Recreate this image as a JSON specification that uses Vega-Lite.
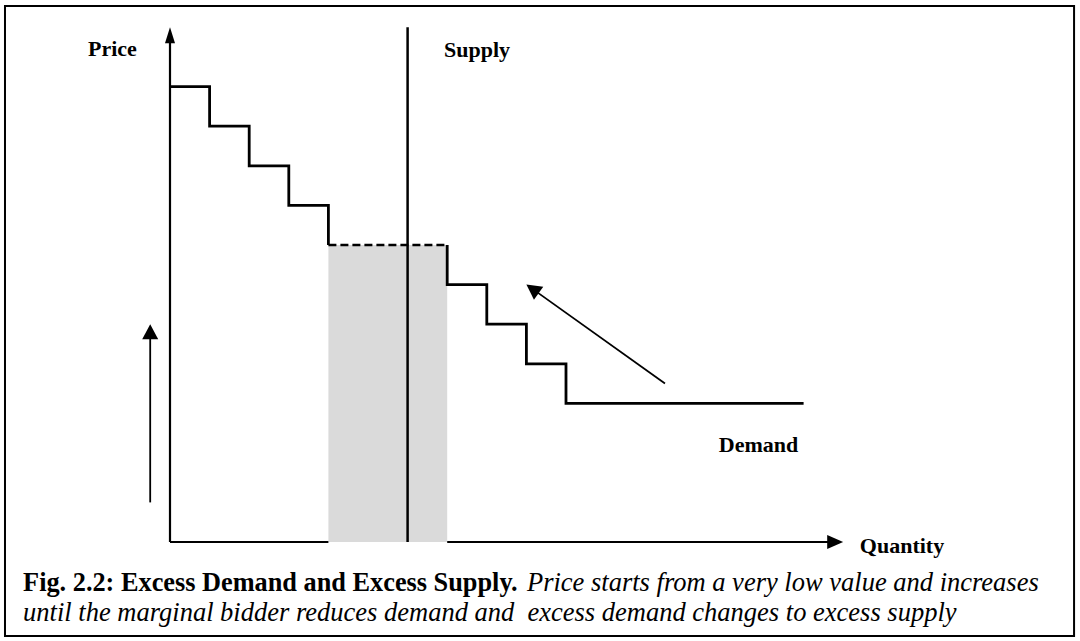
{
  "$schema": "https://vega.github.io/schema/vega-lite/v6.json",
  "width": 1080,
  "height": 641,
  "padding": 0,
  "autosize": {"type": "fit", "contains": "padding"},
  "background": "white",
  "config": {"view": {"stroke": null}},
  "datasets": {
    "frame": [{"q1": -4.167, "q2": 22.83, "p1": -2.374, "p2": 13.535}],
    "shade": [{"q1": 4, "q2": 7, "p1": 0, "p2": 7.5}],
    "axes": [
      {"q1": 0, "p1": 0, "q2": 0, "p2": 12.8},
      {"q1": 0, "p1": 0, "q2": 4, "p2": 0},
      {"q1": 7, "p1": 0, "q2": 16.8, "p2": 0}
    ],
    "supply": [{"q1": 6, "p1": 0, "q2": 6, "p2": 13}],
    "demand": [
      {"seg": "a", "i": 1, "q": 0, "p": 11.5},
      {"seg": "a", "i": 2, "q": 1, "p": 11.5},
      {"seg": "a", "i": 3, "q": 1, "p": 10.5},
      {"seg": "a", "i": 4, "q": 2, "p": 10.5},
      {"seg": "a", "i": 5, "q": 2, "p": 9.5},
      {"seg": "a", "i": 6, "q": 3, "p": 9.5},
      {"seg": "a", "i": 7, "q": 3, "p": 8.5},
      {"seg": "a", "i": 8, "q": 4, "p": 8.5},
      {"seg": "a", "i": 9, "q": 4, "p": 7.5},
      {"seg": "b", "i": 1, "q": 7, "p": 7.5},
      {"seg": "b", "i": 2, "q": 7, "p": 6.5},
      {"seg": "b", "i": 3, "q": 8, "p": 6.5},
      {"seg": "b", "i": 4, "q": 8, "p": 5.5},
      {"seg": "b", "i": 5, "q": 9, "p": 5.5},
      {"seg": "b", "i": 6, "q": 9, "p": 4.5},
      {"seg": "b", "i": 7, "q": 10, "p": 4.5},
      {"seg": "b", "i": 8, "q": 10, "p": 3.5},
      {"seg": "b", "i": 9, "q": 16, "p": 3.5}
    ],
    "dashed": [{"q1": 4, "p1": 7.5, "q2": 7, "p2": 7.5}],
    "shafts": [
      {"q1": -0.5, "p1": 1, "q2": -0.5, "p2": 5.3},
      {"q1": 12.5, "p1": 4, "q2": 9.1, "p2": 6.43}
    ],
    "headY": [{"q": 0, "p": 13}],
    "headX": [{"q": 17, "p": 0}],
    "headUp": [{"q": -0.5, "p": 5.5}],
    "headDiag": [{"q": 9, "p": 6.5}],
    "labels": [
      {"q": -2.07, "p": 12.27, "label": "Price"},
      {"q": 6.92, "p": 12.25, "label": "Supply"},
      {"q": 13.86, "p": 2.27, "label": "Demand"},
      {"q": 17.42, "p": -0.28, "label": "Quantity"}
    ],
    "capBold": [{"q": -3.71, "p": -1.237, "label": "Fig. 2.2: Excess Demand and Excess Supply."}],
    "capItalic": [
      {"q": 9.015, "p": -1.237, "label": "Price starts from a very low value and increases"},
      {"q": -3.71, "p": -1.995, "label": "until the marginal bidder reduces demand and \u00a0excess demand changes to excess supply"}
    ]
  },
  "layer": [
    {
      "data": {"name": "frame"},
      "mark": {"type": "rect", "filled": false, "stroke": "black", "strokeWidth": 2},
      "encoding": {
        "x": {"field": "q1", "type": "quantitative", "scale": {"domain": [-4.293, 22.98], "nice": false, "zero": false}, "axis": null},
        "x2": {"field": "q2"},
        "y": {"field": "p1", "type": "quantitative", "scale": {"domain": [-2.5, 13.687], "nice": false, "zero": false}, "axis": null},
        "y2": {"field": "p2"}
      }
    },
    {
      "data": {"name": "shade"},
      "mark": {"type": "rect", "fill": "#dadada", "strokeWidth": 0},
      "encoding": {
        "x": {"field": "q1", "type": "quantitative"},
        "x2": {"field": "q2"},
        "y": {"field": "p1", "type": "quantitative"},
        "y2": {"field": "p2"}
      }
    },
    {
      "data": {"name": "axes"},
      "mark": {"type": "rule", "color": "black", "strokeWidth": 2.2},
      "encoding": {
        "x": {"field": "q1", "type": "quantitative"},
        "x2": {"field": "q2"},
        "y": {"field": "p1", "type": "quantitative"},
        "y2": {"field": "p2"}
      }
    },
    {
      "data": {"name": "supply"},
      "mark": {"type": "rule", "color": "black", "strokeWidth": 2.5},
      "encoding": {
        "x": {"field": "q1", "type": "quantitative"},
        "x2": {"field": "q2"},
        "y": {"field": "p1", "type": "quantitative"},
        "y2": {"field": "p2"}
      }
    },
    {
      "data": {"name": "demand"},
      "mark": {"type": "line", "color": "black", "strokeWidth": 2.8, "strokeJoin": "miter"},
      "encoding": {
        "x": {"field": "q", "type": "quantitative"},
        "y": {"field": "p", "type": "quantitative"},
        "detail": {"field": "seg"},
        "order": {"field": "i", "type": "quantitative"}
      }
    },
    {
      "data": {"name": "dashed"},
      "mark": {"type": "rule", "color": "black", "strokeWidth": 2.6, "strokeDash": [8, 4]},
      "encoding": {
        "x": {"field": "q1", "type": "quantitative"},
        "x2": {"field": "q2"},
        "y": {"field": "p1", "type": "quantitative"},
        "y2": {"field": "p2"}
      }
    },
    {
      "data": {"name": "shafts"},
      "mark": {"type": "rule", "color": "black", "strokeWidth": 1.8},
      "encoding": {
        "x": {"field": "q1", "type": "quantitative"},
        "x2": {"field": "q2"},
        "y": {"field": "p1", "type": "quantitative"},
        "y2": {"field": "p2"}
      }
    },
    {
      "data": {"name": "headY"},
      "mark": {"type": "point", "shape": "M0,0L0.3125,1L-0.3125,1Z", "size": 1024, "filled": true, "color": "black", "opacity": 1, "strokeWidth": 0},
      "encoding": {"x": {"field": "q", "type": "quantitative"}, "y": {"field": "p", "type": "quantitative"}}
    },
    {
      "data": {"name": "headX"},
      "mark": {"type": "point", "shape": "M0,0L0.4375,1L-0.4375,1Z", "size": 1024, "angle": 90, "filled": true, "color": "black", "opacity": 1, "strokeWidth": 0},
      "encoding": {"x": {"field": "q", "type": "quantitative"}, "y": {"field": "p", "type": "quantitative"}}
    },
    {
      "data": {"name": "headUp"},
      "mark": {"type": "point", "shape": "M0,0L0.5333,1L-0.5333,1Z", "size": 900, "filled": true, "color": "black", "opacity": 1, "strokeWidth": 0},
      "encoding": {"x": {"field": "q", "type": "quantitative"}, "y": {"field": "p", "type": "quantitative"}}
    },
    {
      "data": {"name": "headDiag"},
      "mark": {"type": "point", "shape": "M0,0L0.5333,1L-0.5333,1Z", "size": 900, "angle": 305.5, "filled": true, "color": "black", "opacity": 1, "strokeWidth": 0},
      "encoding": {"x": {"field": "q", "type": "quantitative"}, "y": {"field": "p", "type": "quantitative"}}
    },
    {
      "data": {"name": "labels"},
      "mark": {"type": "text", "font": "Liberation Serif", "fontWeight": "bold", "fontSize": 22, "align": "left", "baseline": "alphabetic", "color": "black"},
      "encoding": {
        "x": {"field": "q", "type": "quantitative"},
        "y": {"field": "p", "type": "quantitative"},
        "text": {"field": "label"}
      }
    },
    {
      "data": {"name": "capBold"},
      "mark": {"type": "text", "font": "Liberation Serif", "fontWeight": "bold", "fontSize": 26.3, "align": "left", "baseline": "alphabetic", "color": "black"},
      "encoding": {
        "x": {"field": "q", "type": "quantitative"},
        "y": {"field": "p", "type": "quantitative"},
        "text": {"field": "label"}
      }
    },
    {
      "data": {"name": "capItalic"},
      "mark": {"type": "text", "font": "Liberation Serif", "fontStyle": "italic", "fontSize": 26.5, "align": "left", "baseline": "alphabetic", "color": "black"},
      "encoding": {
        "x": {"field": "q", "type": "quantitative"},
        "y": {"field": "p", "type": "quantitative"},
        "text": {"field": "label"}
      }
    }
  ]
}
